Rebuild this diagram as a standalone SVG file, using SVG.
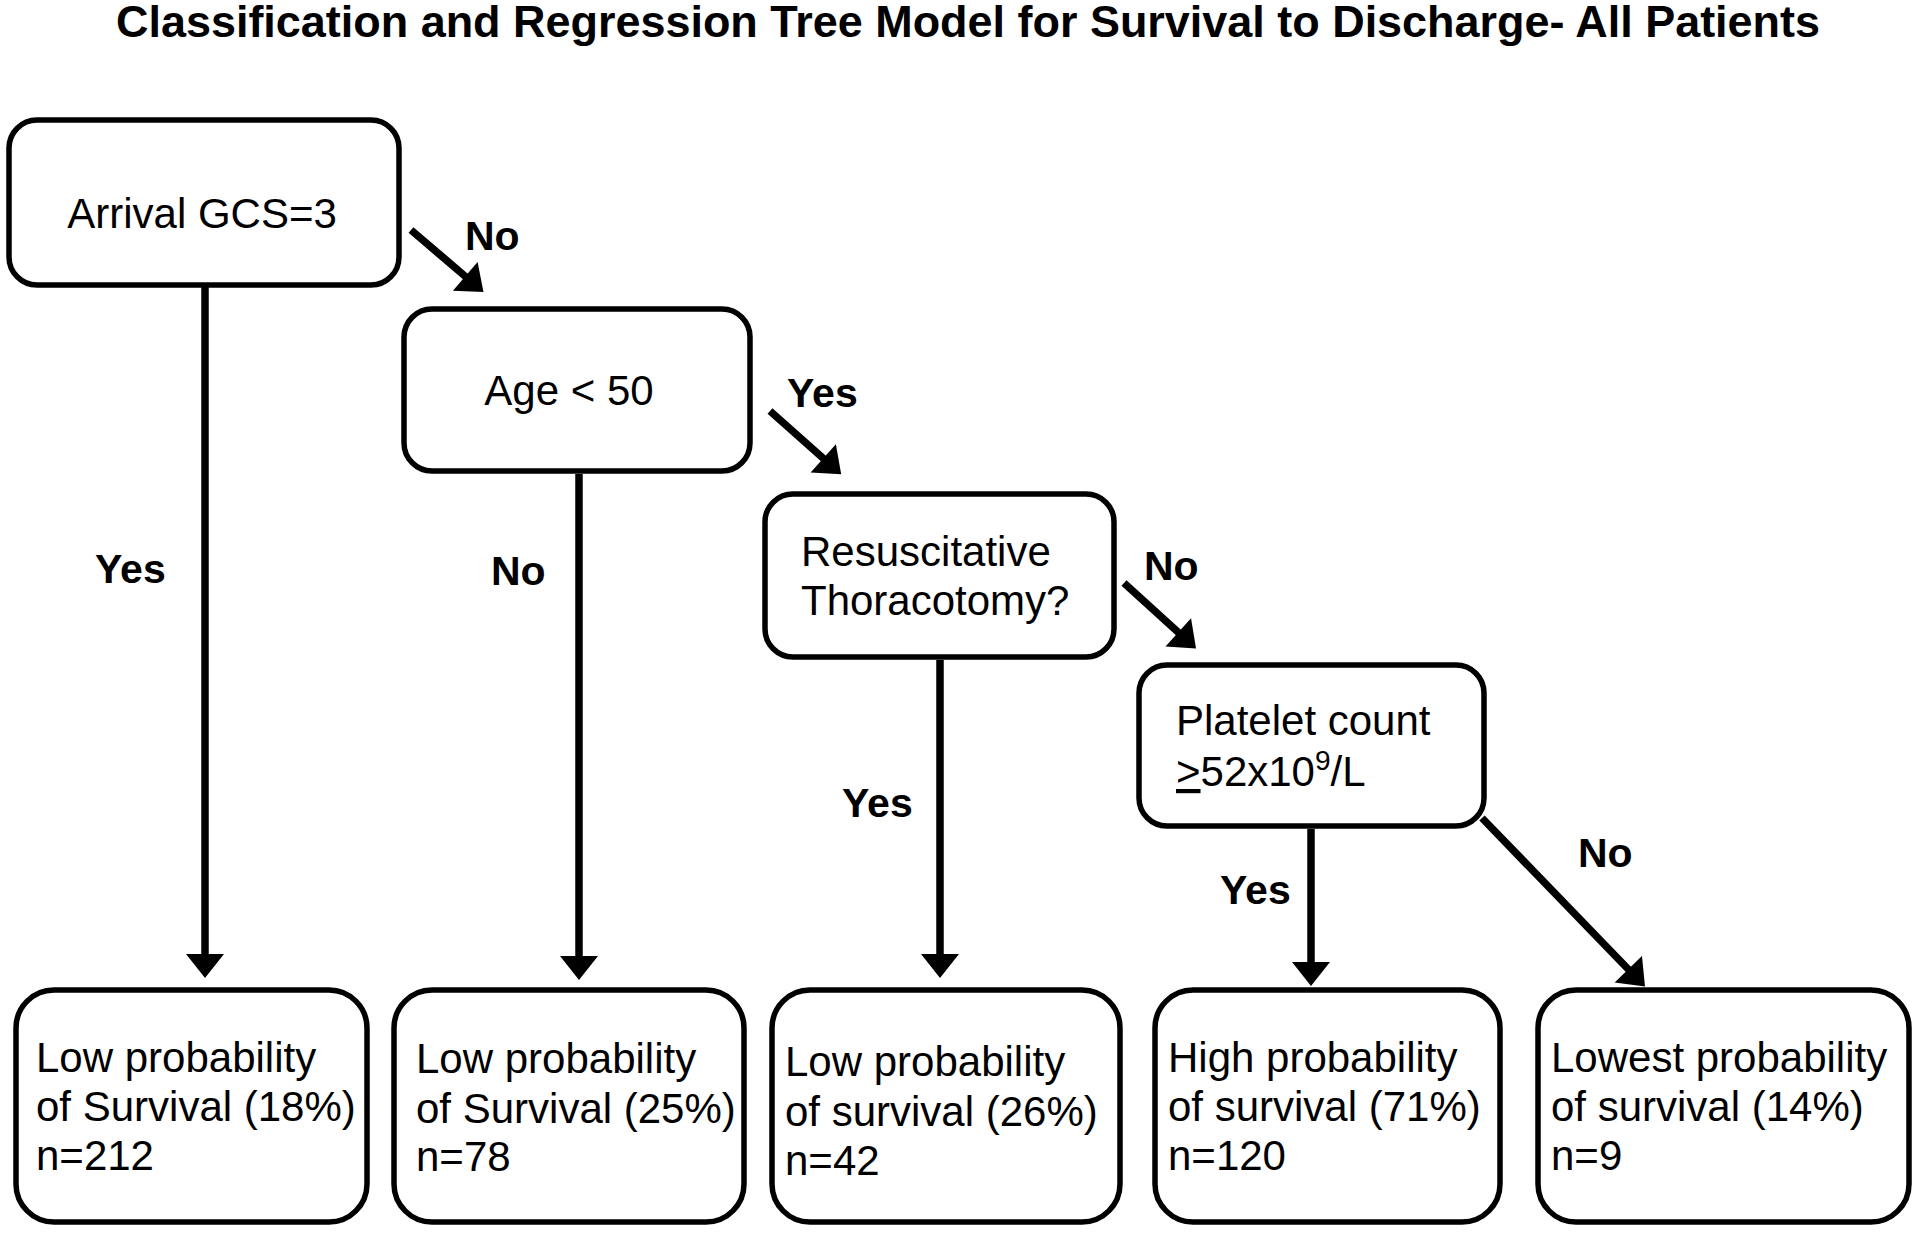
<svg xmlns="http://www.w3.org/2000/svg" width="1920" height="1233" viewBox="0 0 1920 1233">
<defs>
<style>
.box{fill:#fff;stroke:#000;stroke-width:5.5}
.t{font-family:"Liberation Sans",Arial,sans-serif;font-size:42px;fill:#000}
.lbl{font-family:"Liberation Sans",Arial,sans-serif;font-size:41px;font-weight:bold;fill:#000}
.title{font-family:"Liberation Sans",Arial,sans-serif;font-size:44px;font-weight:bold;fill:#000}
.edge{fill:none;stroke:#000;stroke-width:7.5;marker-end:url(#ah)}
</style>
<marker id="ah" markerUnits="userSpaceOnUse" markerWidth="26" markerHeight="40" refX="1" refY="19" orient="auto" viewBox="0 0 26 40" overflow="visible">
<path d="M0,0 L24,19 L0,38 Z" fill="#000"/>
</marker>
</defs>
<rect width="1920" height="1233" fill="#fff"/>
<text class="title" x="968" y="37" text-anchor="middle" textLength="1704" lengthAdjust="spacingAndGlyphs">Classification and Regression Tree Model for Survival to Discharge- All Patients</text>

<g id="connectors">
<line class="edge" x1="411" y1="230" x2="466" y2="277"/>
<line class="edge" x1="770" y1="411" x2="824" y2="459"/>
<line class="edge" x1="1124" y1="583" x2="1179" y2="633"/>
<line class="edge" x1="205" y1="285" x2="205" y2="955"/>
<line class="edge" x1="579" y1="474" x2="579" y2="957"/>
<line class="edge" x1="940" y1="660" x2="940" y2="955"/>
<line class="edge" x1="1311" y1="829" x2="1311" y2="963"/>
<line class="edge" x1="1482" y1="818" x2="1629" y2="970"/>
<text class="lbl" x="465" y="250">No</text>
<text class="lbl" x="787" y="407">Yes</text>
<text class="lbl" x="95" y="583">Yes</text>
<text class="lbl" x="491" y="585">No</text>
<text class="lbl" x="1144" y="580">No</text>
<text class="lbl" x="842" y="817">Yes</text>
<text class="lbl" x="1220" y="904">Yes</text>
<text class="lbl" x="1578" y="867">No</text>
</g>

<g id="node-gcs">
<rect class="box" x="9" y="120" width="390" height="165" rx="28"/>
<text class="t" x="202" y="228" text-anchor="middle">Arrival GCS=3</text>
</g>
<g id="node-age">
<rect class="box" x="404" y="309" width="346" height="162" rx="28"/>
<text class="t" x="569" y="405" text-anchor="middle">Age &lt; 50</text>
</g>
<g id="node-thoracotomy">
<rect class="box" x="765" y="494" width="349" height="163" rx="28"/>
<text class="t" x="801" y="566">Resuscitative</text>
<text class="t" x="801" y="615">Thoracotomy?</text>
</g>
<g id="node-platelet">
<rect class="box" x="1139" y="665" width="345" height="161" rx="28"/>
<text class="t" x="1176" y="735">Platelet count</text>
<text class="t" x="1176" y="786"><tspan text-decoration="underline">&gt;</tspan>52x10<tspan font-size="28" dy="-16">9</tspan><tspan dy="16">/L</tspan></text>
</g>

<g id="leaf-1">
<rect class="box" x="16" y="990" width="351" height="232" rx="38"/>
<text class="t" x="36" y="1072">Low probability</text>
<text class="t" x="36" y="1121">of Survival (18%)</text>
<text class="t" x="36" y="1170">n=212</text>
</g>
<g id="leaf-2">
<rect class="box" x="394" y="990" width="350" height="232" rx="38"/>
<text class="t" x="416" y="1073">Low probability</text>
<text class="t" x="416" y="1123">of Survival (25%)</text>
<text class="t" x="416" y="1171">n=78</text>
</g>
<g id="leaf-3">
<rect class="box" x="772" y="990" width="348" height="232" rx="38"/>
<text class="t" x="785" y="1076">Low probability</text>
<text class="t" x="785" y="1126">of survival (26%)</text>
<text class="t" x="785" y="1175">n=42</text>
</g>
<g id="leaf-4">
<rect class="box" x="1155" y="990" width="345" height="232" rx="38"/>
<text class="t" x="1168" y="1072">High probability</text>
<text class="t" x="1168" y="1121">of survival (71%)</text>
<text class="t" x="1168" y="1170">n=120</text>
</g>
<g id="leaf-5">
<rect class="box" x="1538" y="990" width="371" height="232" rx="38"/>
<text class="t" x="1551" y="1072">Lowest probability</text>
<text class="t" x="1551" y="1121">of survival (14%)</text>
<text class="t" x="1551" y="1170">n=9</text>
</g>
</svg>
